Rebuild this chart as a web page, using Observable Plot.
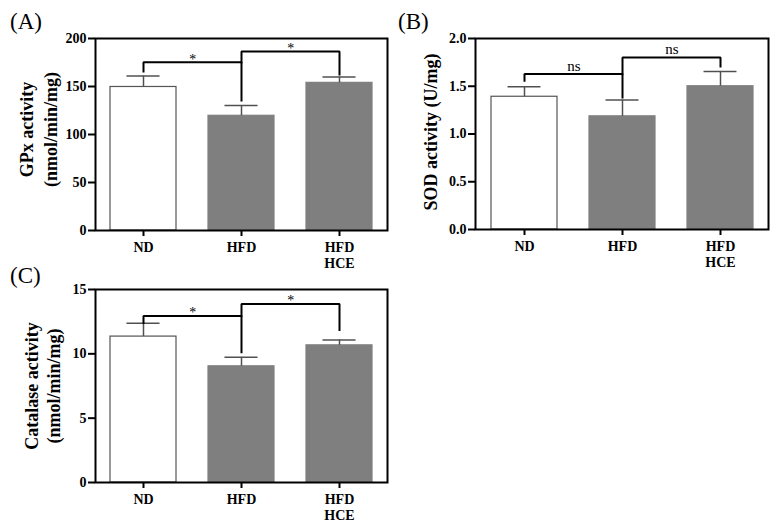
<!DOCTYPE html>
<html>
<head>
<meta charset="utf-8">
<script src="https://cdn.jsdelivr.net/npm/d3@7"></script>
<script src="https://cdn.jsdelivr.net/npm/@observablehq/plot@0.6"></script>
<style>
  html, body { margin: 0; padding: 0; background: #fff; }
  #wrap { position: relative; width: 777px; height: 527px; background: #fff; overflow: hidden; }
  .panel { position: absolute; }
  .tag { position: absolute; font-family: 'Liberation Serif', 'Times New Roman', serif; font-size: 23px; line-height: 1; color: #000; }
</style>
</head>
<body>
<div id="wrap">
  <div class="panel" id="pA" style="left:0px;top:0px"></div>
  <div class="panel" id="pB" style="left:390px;top:0px"></div>
  <div class="panel" id="pC" style="left:0px;top:270px"></div>
  <div class="tag" style="left:10px;top:10px">(A)</div>
  <div class="tag" style="left:398px;top:10px">(B)</div>
  <div class="tag" style="left:10px;top:264px">(C)</div>
</div>
<script>
// ---- data ----
const groups = ["ND", "HFD", "HFD\nHCE"];

// (A) GPx activity (nmol/min/mg)
const gpxMean = [149.5, 119.5, 153.8];
const gpxErr  = [11.5, 10.7, 6.0];
const gpxTicks = [0, 50, 100, 150, 200];
const gpxTitle = ["GPx activity", "(nmol/min/mg)"];
const gpxBrackets = [
  {a: "ND",  b: "HFD",      top: 175.3, endA: 165.5, endB: 135.4, label: "*"},
  {a: "HFD", b: "HFD\nHCE", top: 186.5, endA: 175.3, endB: 162.5, label: "*"}
];

// (B) SOD activity (U/mg)
const sodMean = [1.39, 1.185, 1.50];
const sodErr  = [0.105, 0.17, 0.155];
const sodTicks = [0, 0.5, 1.0, 1.5, 2.0];
const sodTitle = ["SOD activity (U/mg)"];
const sodBrackets = [
  {a: "ND",  b: "HFD",      top: 1.628, endA: 1.558, endB: 1.383, label: "ns"},
  {a: "HFD", b: "HFD\nHCE", top: 1.80,  endA: 1.628, endB: 1.707, label: "ns"}
];

// (C) Catalase activity (nmol/min/mg)
const catMean = [11.34, 9.03, 10.66];
const catErr  = [1.03, 0.70, 0.42];
const catTicks = [0, 5, 10, 15];
const catTitle = ["Catalase activity", "(nmol/min/mg)"];
const catBrackets = [
  {a: "ND",  b: "HFD",      top: 12.95, endA: 12.40, endB: 10.12, label: "*"},
  {a: "HFD", b: "HFD\nHCE", top: 13.88, endA: 12.95, endB: 11.86, label: "*"}
];

const fills = ["#ffffff", "#7f7f7f", "#7f7f7f"];
const strokes = ["#555555", "#7f7f7f", "#7f7f7f"];

const FONT = "'Liberation Serif', 'Times New Roman', serif";

function panel(o) {
  const rows = groups.map((g, i) => ({g, mean: o.means[i], upper: o.means[i] + o.errs[i], fill: fills[i], stroke: strokes[i]}));
  const pi = 0.33, po = 0.15;
  const step = (o.width - o.ml - o.mr) / (groups.length - pi + 2 * po);
  const bw = step * (1 - pi);
  const capInset = bw / 4;
  const pts = [];
  o.brackets.forEach((b, k) => {
    pts.push({k, g: b.a, v: b.endA}, {k, g: b.a, v: b.top}, {k, g: b.b, v: b.top}, {k, g: b.b, v: b.endB});
  });
  const titleMarks = o.title.map((t, i) =>
    Plot.text([t], {frameAnchor: "left", rotate: -90, dx: o.titleDx[i], dy: o.titleDy,
      fontSize: o.titleSize, fontWeight: "bold", fill: "black", textAnchor: "middle", lineAnchor: "middle"}));
  return Plot.plot({
    width: o.width, height: o.height,
    marginLeft: o.ml, marginRight: o.mr, marginTop: o.mt, marginBottom: o.mb,
    style: {fontFamily: FONT, background: "white", color: "black", overflow: "visible"},
    x: {domain: groups, paddingInner: pi, paddingOuter: po, label: null},
    y: {domain: o.yDomain, label: null},
    marks: [
      Plot.barY(rows, {x: "g", y: "mean", fill: "fill", stroke: "stroke", strokeWidth: 1.2}),
      Plot.ruleX(rows, {x: "g", y1: "mean", y2: "upper", stroke: "#505050", strokeWidth: 1.5}),
      Plot.tickY(rows, {x: "g", y: "upper", stroke: "#505050", strokeWidth: 1.5, insetLeft: capInset, insetRight: capInset}),
      Plot.line(pts, {x: "g", y: "v", z: "k", stroke: "black", strokeWidth: 2, curve: "linear", strokeLinejoin: "miter", strokeLinecap: "square"}),
      Plot.text(o.brackets, {x: "a", y: "top", text: "label", dx: step / 2, dy: o.labelDy,
        fontSize: o.labelSize, fill: "black", textAnchor: "middle", lineAnchor: "middle"}),
      Plot.frame({stroke: "black", strokeWidth: 2}),
      Plot.axisY({ticks: o.ticks, tickFormat: o.fmt, tickSize: 7, tickPadding: 2, strokeWidth: 2,
        fontSize: 14, fontWeight: "bold", label: null}),
      Plot.axisX({tickSize: 6, tickPadding: 4, strokeWidth: 2, fontSize: 14, fontWeight: "bold", lineHeight: 1.15, label: null}),
      ...titleMarks
    ]
  });
}

document.getElementById("pA").append(panel({
  width: 390, height: 270, ml: 95, mr: 3, mt: 38, mb: 40,
  yDomain: [0, 200], ticks: gpxTicks, fmt: d3.format("d"),
  means: gpxMean, errs: gpxErr, brackets: gpxBrackets,
  title: gpxTitle, titleDx: [-68, -44], titleDy: -5, titleSize: 18,
  labelSize: 14, labelDy: -3
}));

document.getElementById("pB").append(panel({
  width: 387, height: 270, ml: 85, mr: 9, mt: 38, mb: 41,
  yDomain: [0, 2], ticks: sodTicks, fmt: d3.format(".1f"),
  means: sodMean, errs: sodErr, brackets: sodBrackets,
  title: sodTitle, titleDx: [-44], titleDy: -2, titleSize: 18,
  labelSize: 15, labelDy: -8
}));

document.getElementById("pC").append(panel({
  width: 390, height: 257, ml: 95, mr: 3, mt: 19, mb: 45,
  yDomain: [0, 15], ticks: catTicks, fmt: d3.format("d"),
  means: catMean, errs: catErr, brackets: catBrackets,
  title: catTitle, titleDx: [-63, -41], titleDy: 0, titleSize: 18,
  labelSize: 14, labelDy: -3
}));
</script>
</body>
</html>
